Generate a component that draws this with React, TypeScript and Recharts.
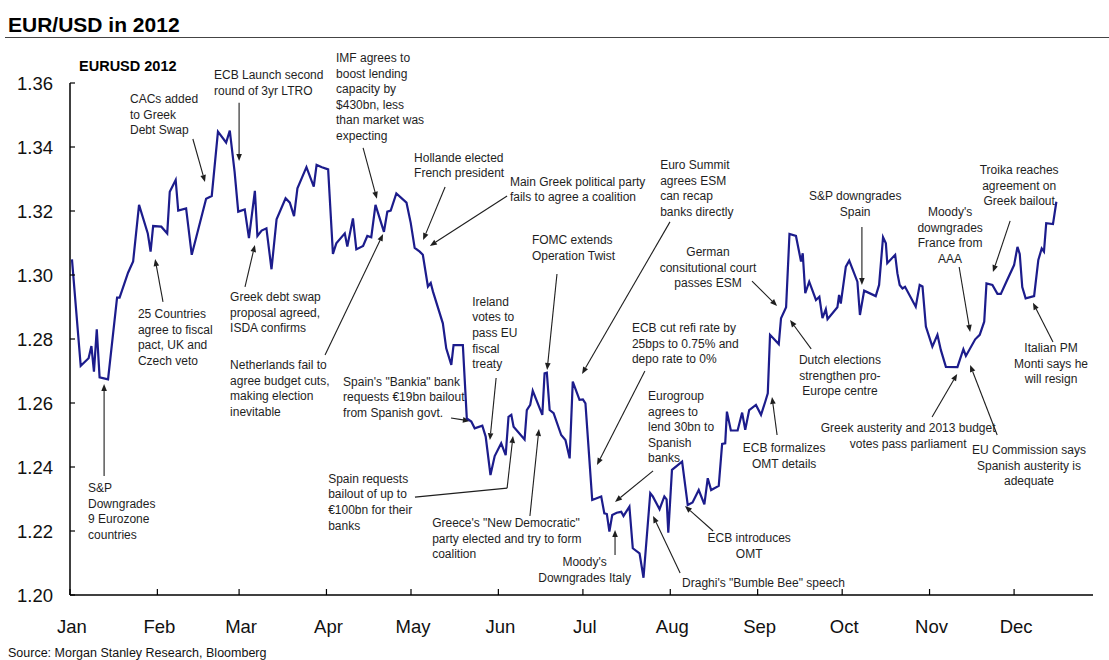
import { LineChart, Line, XAxis, YAxis, ReferenceLine, ReferenceDot } from 'recharts'

// day of year (0 = 1 Jan 2012) and EUR/USD close
const days = [
  0.7, 3.8, 6.6, 7.6, 8.5, 9.5, 10.5, 13.5, 16.7, 17.6, 20.6, 22.4, 24.5, 27.6, 28.6, 29.5, 32.4, 34.5,
  35.4, 37.5, 38.4, 41.2, 43.2, 48.3, 50.3, 52.5, 55.4, 56.7, 58.4, 59.7, 62.0, 63.5, 65.6, 66.5, 68.0,
  69.7, 71.5, 73.3, 76.5, 78.0, 79.5, 80.7, 83.9, 86.5, 87.5, 89.4, 91.6, 93.3, 94.5, 97.5, 98.4, 100.4,
  101.6, 104.0, 105.5, 106.9, 108.4, 111.4, 112.6, 113.8, 115.8, 119.4, 120.9, 122.3, 124.1, 125.2, 127.0,
  128.0, 128.8, 132.3, 133.5, 135.3, 136.1, 139.4, 140.8, 142.4, 143.6, 146.3, 147.5, 149.2, 150.7, 153.0,
  154.6, 155.6, 156.6, 157.4, 161.3, 162.1, 163.3, 164.2, 167.6, 168.4, 169.2, 170.2, 171.6, 174.3, 175.8,
  177.3, 178.4, 180.8, 182.0, 182.9, 185.3, 188.5, 189.6, 190.5, 191.4, 192.4, 194.0, 195.6, 196.4, 198.5,
  199.7, 202.1, 203.5, 205.9, 206.8, 209.2, 210.9, 211.7, 212.3, 213.6, 217.2, 219.2, 220.9, 223.1, 225.1,
  226.3, 227.5, 230.2, 231.4, 232.5, 233.1, 234.5, 236.9, 238.5, 239.6, 241.0, 243.4, 245.2, 246.7, 247.6,
  248.4, 251.5, 252.3, 254.1, 255.3, 257.6, 259.4, 260.0, 260.9, 262.3, 264.7, 265.9, 267.0, 268.2, 268.8,
  272.3, 272.9, 273.5, 275.3, 276.5, 279.4, 280.3, 281.8, 285.9, 287.1, 288.5, 289.5, 290.0, 292.8, 293.6,
  294.4, 295.4, 296.3, 300.1, 301.5, 302.5, 303.7, 306.0, 307.8, 309.0, 310.8, 314.9, 317.0, 317.9, 321.2,
  322.8, 324.4, 325.2, 327.3, 329.1, 330.3, 332.1, 335.0, 336.2, 337.0, 337.9, 339.1, 342.1, 343.6, 344.8,
  345.6, 346.4, 348.8, 350.0,
]

const eurusd = [
  1.3049, 1.2716, 1.274, 1.2778, 1.2698, 1.283, 1.268, 1.2674, 1.2929, 1.2929, 1.3007, 1.3042, 1.3219,
  1.313, 1.3073, 1.3153, 1.3151, 1.313, 1.326, 1.3297, 1.3201, 1.3208, 1.3063, 1.3238, 1.3247, 1.3448,
  1.3414, 1.3451, 1.3323, 1.3198, 1.3205, 1.3115, 1.3263, 1.3122, 1.3139, 1.3146, 1.3018, 1.3174, 1.324,
  1.3226, 1.3184, 1.3271, 1.3337, 1.3276, 1.3344, 1.3337, 1.333, 1.3066, 1.3099, 1.313, 1.3089, 1.3177,
  1.308, 1.3091, 1.3122, 1.3118, 1.3219, 1.3135, 1.3198, 1.3201, 1.3255, 1.3226, 1.3163, 1.3085, 1.3073,
  1.3063, 1.2964, 1.2975, 1.2948, 1.2849, 1.2771, 1.2719, 1.2781, 1.2781, 1.2552, 1.2542, 1.2521, 1.2529,
  1.2495, 1.2375, 1.2434, 1.2474, 1.2437, 1.2557, 1.2563, 1.2526, 1.2486, 1.2578, 1.2594, 1.2638, 1.2563,
  1.2693, 1.2695, 1.2578, 1.2568, 1.25, 1.2484, 1.2427, 1.2667, 1.261, 1.2611, 1.2599, 1.2297, 1.2308,
  1.2255, 1.2253, 1.2198, 1.225, 1.2257, 1.226, 1.2247, 1.2276, 1.2146, 1.213, 1.2054, 1.2318, 1.2308,
  1.2268, 1.2308, 1.2299, 1.2195, 1.2391, 1.2417, 1.2281, 1.2289, 1.2328, 1.2283, 1.2365, 1.2328, 1.2341,
  1.2472, 1.2474, 1.2573, 1.2514, 1.2514, 1.257, 1.2516, 1.2578, 1.2594, 1.2563, 1.2604, 1.263, 1.2813,
  1.2784, 1.2865, 1.2899, 1.3128, 1.3122, 1.3042, 1.3068, 1.2943, 1.2979, 1.2922, 1.2932, 1.2865, 1.2893,
  1.2862, 1.2899, 1.2938, 1.2911, 1.3026, 1.3045, 1.2979, 1.2875, 1.2951, 1.2934, 1.2969, 1.3118, 1.3099,
  1.3037, 1.3063, 1.3005, 1.2969, 1.2958, 1.2963, 1.2901, 1.2969, 1.2964, 1.2839, 1.2776, 1.2813, 1.2766,
  1.2713, 1.2712, 1.2768, 1.2747, 1.2799, 1.2813, 1.2854, 1.2974, 1.2969, 1.2941, 1.2941, 1.2976, 1.3031,
  1.3088, 1.3066, 1.2962, 1.2927, 1.2934, 1.3047, 1.3083, 1.3073, 1.3162, 1.3159, 1.3229,
]

const monthStarts = [0, 31, 60, 91, 121, 152, 182, 213, 244, 274, 305, 335]
const monthLabels = ['Jan', 'Feb', 'Mar', 'Apr', 'May', 'Jun', 'Jul', 'Aug', 'Sep', 'Oct', 'Nov', 'Dec']
const rateTicks = [1.2, 1.22, 1.24, 1.26, 1.28, 1.3, 1.32, 1.34, 1.36]

type Note = {
  lines: string[]
  day: number
  rate: number
  anchor: 'start' | 'middle'
  arrow: number[][]
}

// text anchor and arrow path, both in (day, rate) units
const notes: Note[] = [
  { lines: ['S&P', 'Downgrades', '9 Eurozone', 'countries'], day: 6.4, rate: 1.2334, anchor: 'start', arrow: [[12.1, 1.2372], [12.1, 1.2659]] },
  { lines: ['25 Countries', 'agree to fiscal', 'pact, UK and', 'Czech veto'], day: 24.1, rate: 1.2878, anchor: 'start', arrow: [[33.0, 1.2916], [30.2, 1.305]] },
  { lines: ['CACs added', 'to Greek', 'Debt Swap'], day: 21.3, rate: 1.355, anchor: 'start', arrow: [[43.6, 1.3425], [47.9, 1.3291]] },
  { lines: ['ECB Launch second', 'round of 3yr LTRO'], day: 51.1, rate: 1.3625, anchor: 'start', arrow: [[60.0, 1.3538], [60.0, 1.3356]] },
  { lines: ['IMF agrees to', 'boost lending', 'capacity by', '$430bn, less', 'than market was', 'expecting'], day: 94.4, rate: 1.3678, anchor: 'start', arrow: [[104.0, 1.3397], [108.9, 1.3238]] },
  { lines: ['Hollande elected', 'French president'], day: 122.1, rate: 1.3366, anchor: 'start', arrow: [[133.1, 1.3275], [125.3, 1.3109]] },
  { lines: ['Main Greek political party', 'fails to agree a coalition'], day: 156.1, rate: 1.3291, anchor: 'start', arrow: [[155.1, 1.3247], [127.7, 1.3091]] },
  { lines: ['Greek debt swap', 'proposal agreed,', 'ISDA confirms'], day: 56.8, rate: 1.2931, anchor: 'start', arrow: [[62.1, 1.2963], [65.6, 1.3094]] },
  { lines: ['Netherlands fail to', 'agree budget cuts,', 'making election', 'inevitable'], day: 56.8, rate: 1.2719, anchor: 'start', arrow: [[90.5, 1.275], [111.1, 1.3128]] },
  { lines: ['Spain\'s "Bankia" bank', 'requests €19bn bailout', 'from Spanish govt.'], day: 96.9, rate: 1.2666, anchor: 'start', arrow: [[135.2, 1.2553], [141.9, 1.2544]] },
  { lines: ['Ireland', 'votes to', 'pass EU', 'fiscal', 'treaty'], day: 142.7, rate: 1.2916, anchor: 'start', arrow: [[151.2, 1.2678], [149.0, 1.2484]] },
  { lines: ['Spain requests', 'bailout of up to', '€100bn for their', 'banks'], day: 91.6, rate: 1.2363, anchor: 'start', arrow: [[122.4, 1.2306], [155.1, 1.2334], [157.2, 1.2497]] },
  { lines: ['Greece\'s "New Democratic"', 'party elected and try to form', 'coalition'], day: 128.5, rate: 1.2225, anchor: 'start', arrow: [[163.2, 1.2247], [166.4, 1.2519]] },
  { lines: ['FOMC extends', 'Operation Twist'], day: 163.9, rate: 1.3109, anchor: 'start', arrow: [[172.8, 1.3003], [169.3, 1.2703]] },
  { lines: ['Euro Summit', 'agrees ESM', 'can recap', 'banks directly'], day: 209.4, rate: 1.3344, anchor: 'start', arrow: [[212.9, 1.3166], [181.7, 1.2691]] },
  { lines: ['ECB cut refi rate by', '25bps to 0.75% and', 'depo rate to 0%'], day: 199.4, rate: 1.2834, anchor: 'start', arrow: [[204.0, 1.27], [187.0, 1.2406]] },
  { lines: ['Eurogroup', 'agrees to', 'lend 30bn to', 'Spanish', 'banks'], day: 205.1, rate: 1.2622, anchor: 'start', arrow: [[206.9, 1.2388], [193.4, 1.2291]] },
  { lines: ['Moody\'s', 'Downgrades Italy'], day: 182.6, rate: 1.2103, anchor: 'middle', arrow: [[193.4, 1.2125], [193.4, 1.2203]] },
  { lines: ['Draghi\'s "Bumble Bee" speech'], day: 217.2, rate: 1.2038, anchor: 'start', arrow: [[216.5, 1.2069], [206.9, 1.2247]] },
  { lines: ['ECB introduces', 'OMT'], day: 241.0, rate: 1.2178, anchor: 'middle', arrow: [[228.2, 1.22], [218.2, 1.2278]] },
  { lines: ['ECB formalizes', 'OMT details'], day: 253.4, rate: 1.2459, anchor: 'middle', arrow: [[250.9, 1.25], [249.1, 1.2619]] },
  { lines: ['German', 'consitutional court', 'passes ESM'], day: 226.4, rate: 1.3072, anchor: 'middle', arrow: [[242.0, 1.2981], [250.9, 1.2903]] },
  { lines: ['Dutch elections', 'strengthen pro-', 'Europe centre'], day: 273.2, rate: 1.2734, anchor: 'middle', arrow: [[263.0, 1.2769], [255.5, 1.2859]] },
  { lines: ['S&P downgrades', 'Spain'], day: 278.6, rate: 1.3247, anchor: 'middle', arrow: [[281.0, 1.315], [281.0, 1.2969]] },
  { lines: ['Moody\'s', 'downgrades', 'France from', 'AAA'], day: 312.3, rate: 1.3197, anchor: 'middle', arrow: [[315.5, 1.3025], [319.4, 1.2822]] },
  { lines: ['Troika reaches', 'agreement on', 'Greek bailout'], day: 336.8, rate: 1.3328, anchor: 'middle', arrow: [[333.6, 1.3169], [327.5, 1.3009]] },
  { lines: ['Greek austerity and 2013 budget', 'votes pass parliament'], day: 297.4, rate: 1.2522, anchor: 'middle', arrow: [[305.9, 1.2556], [314.8, 1.2691]] },
  { lines: ['EU Commission says', 'Spanish austerity is', 'adequate'], day: 340.3, rate: 1.2453, anchor: 'middle', arrow: [[329.0, 1.25], [319.4, 1.2719]] },
  { lines: ['Italian PM', 'Monti says he', 'will resign'], day: 348.1, rate: 1.2772, anchor: 'middle', arrow: [[348.8, 1.2791], [341.7, 1.2913]] },
]

const rows = days.map((day, i) => ({ day, rate: eurusd[i] }))

const FONT = "'Liberation Sans', Arial, Helvetica, sans-serif"
const LINE = '#1c1c8c'
const INK = '#1e1e1e'

function MonthTick(props: any) {
  const { x, y, payload } = props
  const label = monthLabels[monthStarts.indexOf(payload.value)]
  return (
    <g>
      <line x1={x} y1={y - 6} x2={x} y2={y} stroke="#000" strokeWidth={1.2} />
      <text x={x + 2} y={y + 38} textAnchor="middle" fontSize={18.5} fill="#111">
        {label}
      </text>
    </g>
  )
}

function RateTick(props: any) {
  const { x, y, payload } = props
  return (
    <g>
      <line x1={x} y1={y} x2={x + 5} y2={y} stroke="#000" strokeWidth={1.2} />
      <text x={x - 17} y={y + 6.5} textAnchor="end" fontSize={18.5} fill="#111">
        {Number(payload.value).toFixed(2)}
      </text>
    </g>
  )
}

function NoteText({ cx, cy, note }: { cx: number; cy: number; note: Note }) {
  return (
    <text x={cx} y={cy + 4} textAnchor={note.anchor} fontSize={12} fill={INK}>
      {note.lines.map((line, i) => (
        <tspan key={i} x={cx} y={cy + 4 + i * 15.6}>
          {line}
        </tspan>
      ))}
    </text>
  )
}

function Arrow({ x1, y1, x2, y2, head }: any) {
  const a = Math.atan2(y2 - y1, x2 - x1)
  const len = 7
  const half = 2.8
  const bx = x2 - len * Math.cos(a)
  const by = y2 - len * Math.sin(a)
  const pts = `${x2},${y2} ${bx + half * Math.sin(a)},${by - half * Math.cos(a)} ${bx - half * Math.sin(a)},${by + half * Math.cos(a)}`
  return (
    <g>
      <line x1={x1} y1={y1} x2={head ? bx : x2} y2={head ? by : y2} stroke={INK} strokeWidth={1.1} />
      {head && <polygon points={pts} fill={INK} />}
    </g>
  )
}

export default function App() {
  return (
    <div style={{ position: 'absolute', left: 0, top: 0, width: 1109, height: 660, background: '#fff', fontFamily: FONT }}>
      <div style={{ position: 'absolute', left: 8, top: 12, fontSize: 21, lineHeight: '26px', fontWeight: 700, color: '#000' }}>
        EUR/USD in 2012
      </div>
      <div style={{ position: 'absolute', left: 5, top: 37, width: 1104, height: 1, background: '#444' }} />

      <LineChart width={1109} height={660} data={rows} margin={{ top: 83, right: 16, bottom: 15, left: 10 }}>
        <XAxis
          dataKey="day"
          type="number"
          domain={[0, 363]}
          ticks={monthStarts}
          interval={0}
          allowDataOverflow
          height={50}
          tickSize={0}
          tickMargin={0}
          tickLine={false}
          axisLine={{ stroke: '#000', strokeWidth: 1.5 }}
          tick={<MonthTick />}
        />
        <YAxis
          type="number"
          domain={[1.2, 1.36]}
          ticks={rateTicks}
          interval={0}
          allowDataOverflow
          width={60}
          tickSize={0}
          tickMargin={0}
          tickLine={false}
          axisLine={{ stroke: '#000', strokeWidth: 1.5 }}
          tick={<RateTick />}
        />
        <ReferenceDot
          x={3.2}
          y={1.3653}
          ifOverflow="visible"
          shape={(p: any) => (
            <text x={p.cx} y={p.cy + 5} fontSize={14.5} fontWeight={700} fill="#000">
              EURUSD 2012
            </text>
          )}
        />
        {notes.flatMap((n, i) =>
          n.arrow.slice(1).map((pt, j) => (
            <ReferenceLine
              key={`a${i}-${j}`}
              ifOverflow="visible"
              segment={[
                { x: n.arrow[j][0], y: n.arrow[j][1] },
                { x: pt[0], y: pt[1] },
              ]}
              shape={(p: any) => <Arrow {...p} head={j === n.arrow.length - 2} />}
            />
          )),
        )}
        {notes.map((n, i) => (
          <ReferenceDot
            key={`t${i}`}
            x={n.day}
            y={n.rate}
            ifOverflow="visible"
            shape={(p: any) => <NoteText cx={p.cx} cy={p.cy} note={n} />}
          />
        ))}
        <Line type="linear" dataKey="rate" stroke={LINE} strokeWidth={2.2} dot={false} isAnimationActive={false} />
      </LineChart>

      <div style={{ position: 'absolute', left: 8, top: 646, fontSize: 12.5, lineHeight: '15px', color: '#111' }}>
        Source: Morgan Stanley Research, Bloomberg
      </div>
    </div>
  )
}
